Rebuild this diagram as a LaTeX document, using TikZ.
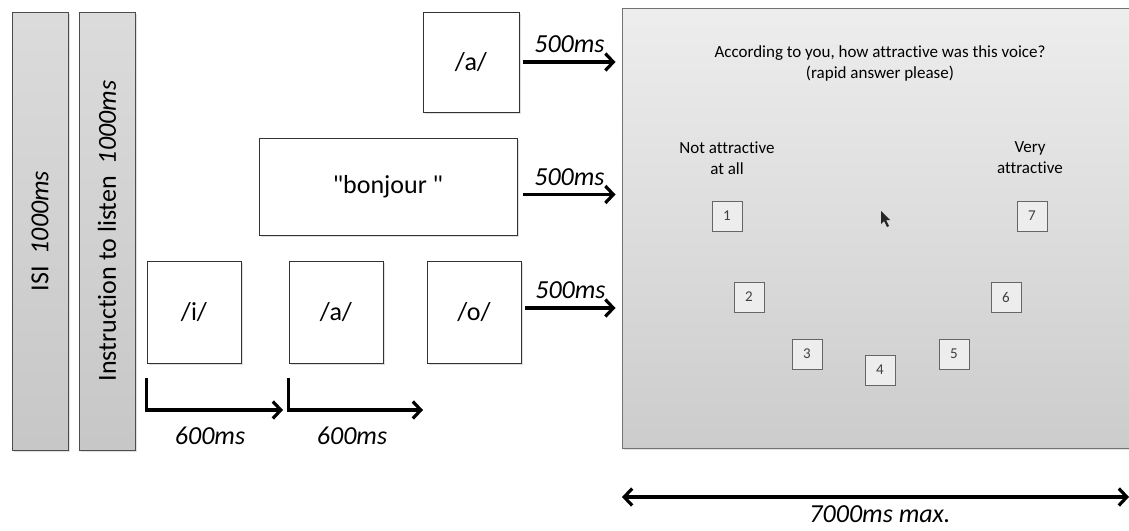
\documentclass[tikz,border=0pt]{standalone}
\usepackage{fontspec}
\setmainfont{Carlito}[Ligatures=NoCommon]
\usepackage{tikz}
\usetikzlibrary{positioning}
\usetikzlibrary{arrows.meta}
\usetikzlibrary{shadows}
\definecolor{bargray}{gray}{0.86}
\definecolor{bardark}{gray}{0.78}
\definecolor{scrtop}{gray}{0.93}
\definecolor{scrbot}{gray}{0.80}
\tikzstyle{shad} = [drop shadow={opacity=0.25,shadow xshift=2pt,shadow yshift=-2pt}]
\tikzstyle{bar} = [draw=black!70,line width=0.8pt,top color=bargray,bottom color=bardark,
  minimum width=56pt,minimum height=438pt,inner sep=0pt,shad]
\tikzstyle{stim} = [draw=black!80,line width=0.8pt,fill=white,inner sep=0pt,shad,
  font=\fontsize{26}{30}\selectfont]
\tikzstyle{scalebox} = [draw=black!60,line width=0.8pt,fill=white!93!black,minimum size=30pt,
  inner sep=0pt,font=\fontsize{15}{17}\selectfont\color{black!75}]
\tikzstyle{tarrow} = [line width=3.2pt,-{Straight Barb[length=8pt,width=17pt]}]
\tikzstyle{tlabel} = [font=\fontsize{26}{30}\selectfont\itshape]
\tikzstyle{scrtext} = [align=center,font=\fontsize{17}{21}\selectfont]

\begin{document}
\begin{tikzpicture}[x=1pt,y=-1pt]
\useasboundingbox (0,0) rectangle (1129,530);

% the two bars at left
\node[bar] (isi) at (40,231) {};
\node[rotate=90,font=\fontsize{26}{30}\selectfont] at (isi) {ISI \ \textit{1000ms}};
\node[bar] (instr) at (107,231) {};
\node[rotate=90,font=\fontsize{26}{30}\selectfont] at (instr) {Instruction to listen \ \textit{1000ms}};

% stimuli
\node[stim,minimum width=94pt,minimum height=102pt] (vi) at (194,312) {/i/};
\node[stim,minimum width=94pt,minimum height=102pt] (vamid) at (336,312) {/a/};
\node[stim,minimum width=94pt,minimum height=102pt] (vo) at (474,312) {/o/};
\node[stim,minimum width=96pt,minimum height=100pt] (vatop) at (471,62) {/a/};
\node[stim,minimum width=258pt,minimum height=97pt] (bonj) at (388,186.5) {\textquotedbl bonjour \textquotedbl};

% rating screen
\node[draw=black!55,line width=1pt,top color=scrtop,bottom color=scrbot,
  minimum width=510pt,minimum height=440pt,inner sep=0pt,shad] (screen) at (877,228) {};
\node[scrtext] (quest) at (880,63)
  {According to you,\ how attractive was this voice?\\(rapid answer please)};
\node[scrtext] (notatt) at (727,158) {Not attractive\\at all};
\node[scrtext] (veryatt) at (1030,158) {Very\\attractive};

\node[scalebox] (s1) at (727,216) {1};
\node[scalebox] (s2) at (749,297) {2};
\node[scalebox] (s3) at (807,354) {3};
\node[scalebox] (s4) at (880,370) {4};
\node[scalebox] (s5) at (954,354) {5};
\node[scalebox] (s6) at (1006,297) {6};
\node[scalebox] (s7) at (1032,216) {7};

% mouse pointer
\fill[black!85] (881,211) -- (881,224) -- (884,221) -- (887,227) -- (889,226) -- (886,220) -- (890,220) -- cycle;

% 500ms arrows
\draw[tarrow] ([xshift=4pt]vatop.east) -- ([xshift=-6pt]vatop.east -| screen.west)
  node[midway,above=4pt,tlabel] {500ms};
\draw[tarrow] ([xshift=6pt,yshift=-8pt]bonj.east) -- ([xshift=-6pt,yshift=-8pt]bonj.east -| screen.west)
  node[midway,above=4pt,tlabel] {500ms};
\draw[tarrow] ([xshift=4pt,yshift=4pt]vo.east) -- ([xshift=-6pt,yshift=4pt]vo.east -| screen.west)
  node[midway,above=4pt,tlabel] {500ms};

% 600ms steps
\coordinate (t1) at (283,410);
\coordinate (t2) at (423,410);
\draw[tarrow] ([yshift=-15pt]vi.south west) |- (t1);
\draw[tarrow] ([yshift=-15pt]vamid.south west) |- (t2);
\node[tlabel] (l1) at (210,436) {600ms};
\node[tlabel] (l2) at (352,436) {600ms};

% total duration
\coordinate (dl) at (622,497);
\coordinate (dr) at (1129,497);
\draw[line width=3.2pt,{Straight Barb[length=8pt,width=17pt]}-{Straight Barb[length=8pt,width=17pt]}] (dl) -- (dr);
\node[tlabel] (lmax) at (880,514) {7000ms max.};

\end{tikzpicture}
\end{document}
